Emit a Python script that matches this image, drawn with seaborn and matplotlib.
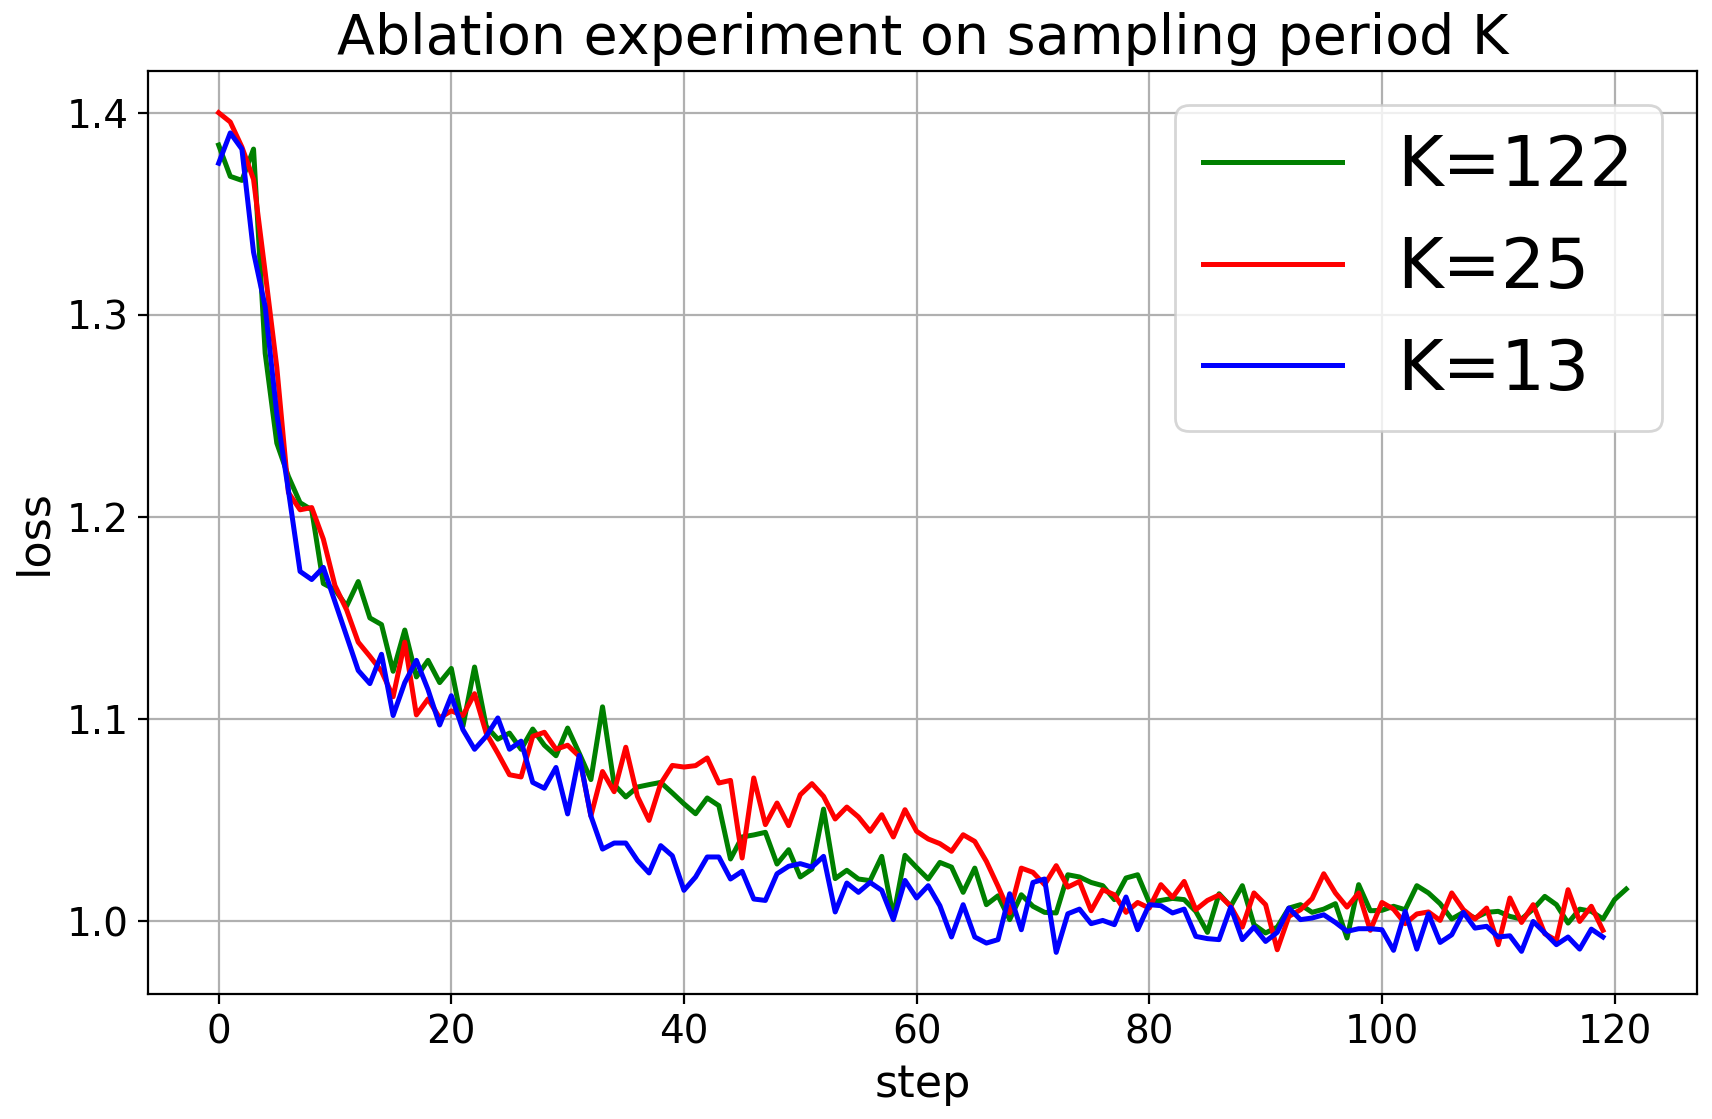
import numpy as np
import pandas as pd
import matplotlib
matplotlib.use("Agg")
import matplotlib.pyplot as plt
import seaborn as sns

# loss curves
loss_k122 = [
    1.384, 1.3685, 1.3665, 1.382, 1.281, 1.2365, 1.220, 1.207, 1.2035, 1.167,
    1.164, 1.1558, 1.168, 1.150, 1.1467, 1.1236, 1.144, 1.1208, 1.129, 1.118,
    1.125, 1.0964, 1.1257, 1.0964, 1.090, 1.093, 1.085, 1.095, 1.087, 1.0818,
    1.0955, 1.083, 1.070, 1.106, 1.0675, 1.0614, 1.0663, 1.0675, 1.0686, 1.0634,
    1.058, 1.0531, 1.0609, 1.0571, 1.0307, 1.0416, 1.0426, 1.0439, 1.0282, 1.0353,
    1.0218, 1.0257, 1.0554, 1.021, 1.0251, 1.0208, 1.020, 1.032, 1.002, 1.0325,
    1.0265, 1.0208, 1.029, 1.0267, 1.0142, 1.0262, 1.0081, 1.0125, 1.0007, 1.013,
    1.0073, 1.0043, 1.004, 1.0229, 1.0218, 1.0191, 1.0175, 1.0106, 1.0213, 1.0229,
    1.0092, 1.0102, 1.0112, 1.0106, 1.0048, 0.9944, 1.0135, 1.0073, 1.0175, 0.9982,
    0.9941, 0.997, 1.0064, 1.0081, 1.0043, 1.0059, 1.0086, 0.9916, 1.018, 1.0051,
    1.0053, 1.0073, 1.0056, 1.0175, 1.0139, 1.0086, 1.001, 1.0043, 1.0015, 1.0043,
    1.0048, 1.0023, 1.001, 1.0059, 1.0122, 1.0081, 0.999, 1.0059, 1.0048, 1.001,
    1.0106, 1.0158,
]

loss_k25 = [
    1.400, 1.3954, 1.383, 1.367, 1.321, 1.274, 1.212, 1.2035, 1.2046, 1.189,
    1.166, 1.154, 1.138, 1.131, 1.1236, 1.111, 1.138, 1.102, 1.1099, 1.1005,
    1.104, 1.1017, 1.1125, 1.093, 1.083, 1.0724, 1.0713, 1.0914, 1.0934, 1.085,
    1.087, 1.0815, 1.052, 1.074, 1.064, 1.086, 1.0617, 1.0498, 1.068, 1.077,
    1.0762, 1.0769, 1.0807, 1.0683, 1.0696, 1.0312, 1.0708, 1.0477, 1.0584, 1.0472,
    1.0625, 1.068, 1.0617, 1.0505, 1.0564, 1.0515, 1.0444, 1.0526, 1.0416, 1.0551,
    1.0444, 1.0406, 1.0383, 1.0345, 1.0427, 1.0394, 1.0295, 1.0172, 1.004, 1.0262,
    1.0241, 1.018, 1.0274, 1.0168, 1.0196, 1.0051, 1.0155, 1.013, 1.0043, 1.0092,
    1.0064, 1.018, 1.0117, 1.0196, 1.0056, 1.0102, 1.0129, 1.0073, 0.997, 1.0139,
    1.0081, 0.9858, 1.0023, 1.0056, 1.0111, 1.0234, 1.0139, 1.0069, 1.0139, 0.9954,
    1.0092, 1.0059, 0.9987, 1.0035, 1.0045, 1.0003, 1.0139, 1.0056, 1.001, 1.0064,
    0.9883, 1.0114, 0.9993, 1.0081, 0.9937, 0.9904, 1.0155, 0.9998, 1.0073, 0.9954,
]

loss_k13 = [
    1.375, 1.390, 1.382, 1.331, 1.304, 1.251, 1.213, 1.173, 1.169, 1.175,
    1.158, 1.141, 1.124, 1.1175, 1.132, 1.1017, 1.118, 1.129, 1.1145, 1.097,
    1.1115, 1.0947, 1.085, 1.0914, 1.1005, 1.085, 1.089, 1.0686, 1.0657, 1.076,
    1.053, 1.082, 1.052, 1.0356, 1.0386, 1.0386, 1.030, 1.0238, 1.0373, 1.0323,
    1.0152, 1.0218, 1.0317, 1.0317, 1.0208, 1.0246, 1.0109, 1.0102, 1.0234, 1.0271,
    1.0284, 1.0267, 1.032, 1.0045, 1.0188, 1.0142, 1.0191, 1.0152, 1.0007, 1.0201,
    1.0114, 1.0175, 1.0076, 0.9921, 1.0081, 0.9921, 0.9891, 0.9908, 1.0135, 0.9957,
    1.0191, 1.0208, 0.9845, 1.0036, 1.0059, 0.9987, 1.0003, 0.9982, 1.0119, 0.9957,
    1.0081, 1.0076, 1.004, 1.0059, 0.9924, 0.9913, 0.9908, 1.0069, 0.9908, 0.997,
    0.9899, 0.9944, 1.0064, 1.0007, 1.0015, 1.0031, 0.9993, 0.9949, 0.9962, 0.9962,
    0.9957, 0.9855, 1.0048, 0.9861, 1.0036, 0.9894, 0.9932, 1.0043, 0.9965, 0.9974,
    0.9921, 0.9927, 0.985, 0.9998, 0.9941, 0.9883, 0.9921, 0.9861, 0.996, 0.9921,
]

labels = ["K=122", "K=25", "K=13"]
colors = ["green", "red", "blue"]
series = [loss_k122, loss_k25, loss_k13]

fig, ax = plt.subplots(figsize=(8.56, 5.595), dpi=200)
fig.subplots_adjust(left=0.0866, right=0.991, top=0.9368, bottom=0.1114)

for vals, lab, col in zip(series, labels, colors):
    steps = np.arange(len(vals))
    sns.lineplot(x=steps, y=vals, color=col, label=lab, ax=ax, linewidth=1.8)

ax.grid(True)
ax.set_title("Ablation experiment on sampling period K", fontsize=20)
ax.set_xlabel("step", fontsize=16)
ax.set_ylabel("loss", fontsize=16)
ax.tick_params(labelsize=14)
ax.legend(loc="upper right", fontsize=25)

fig.savefig("out.png", dpi=200)
